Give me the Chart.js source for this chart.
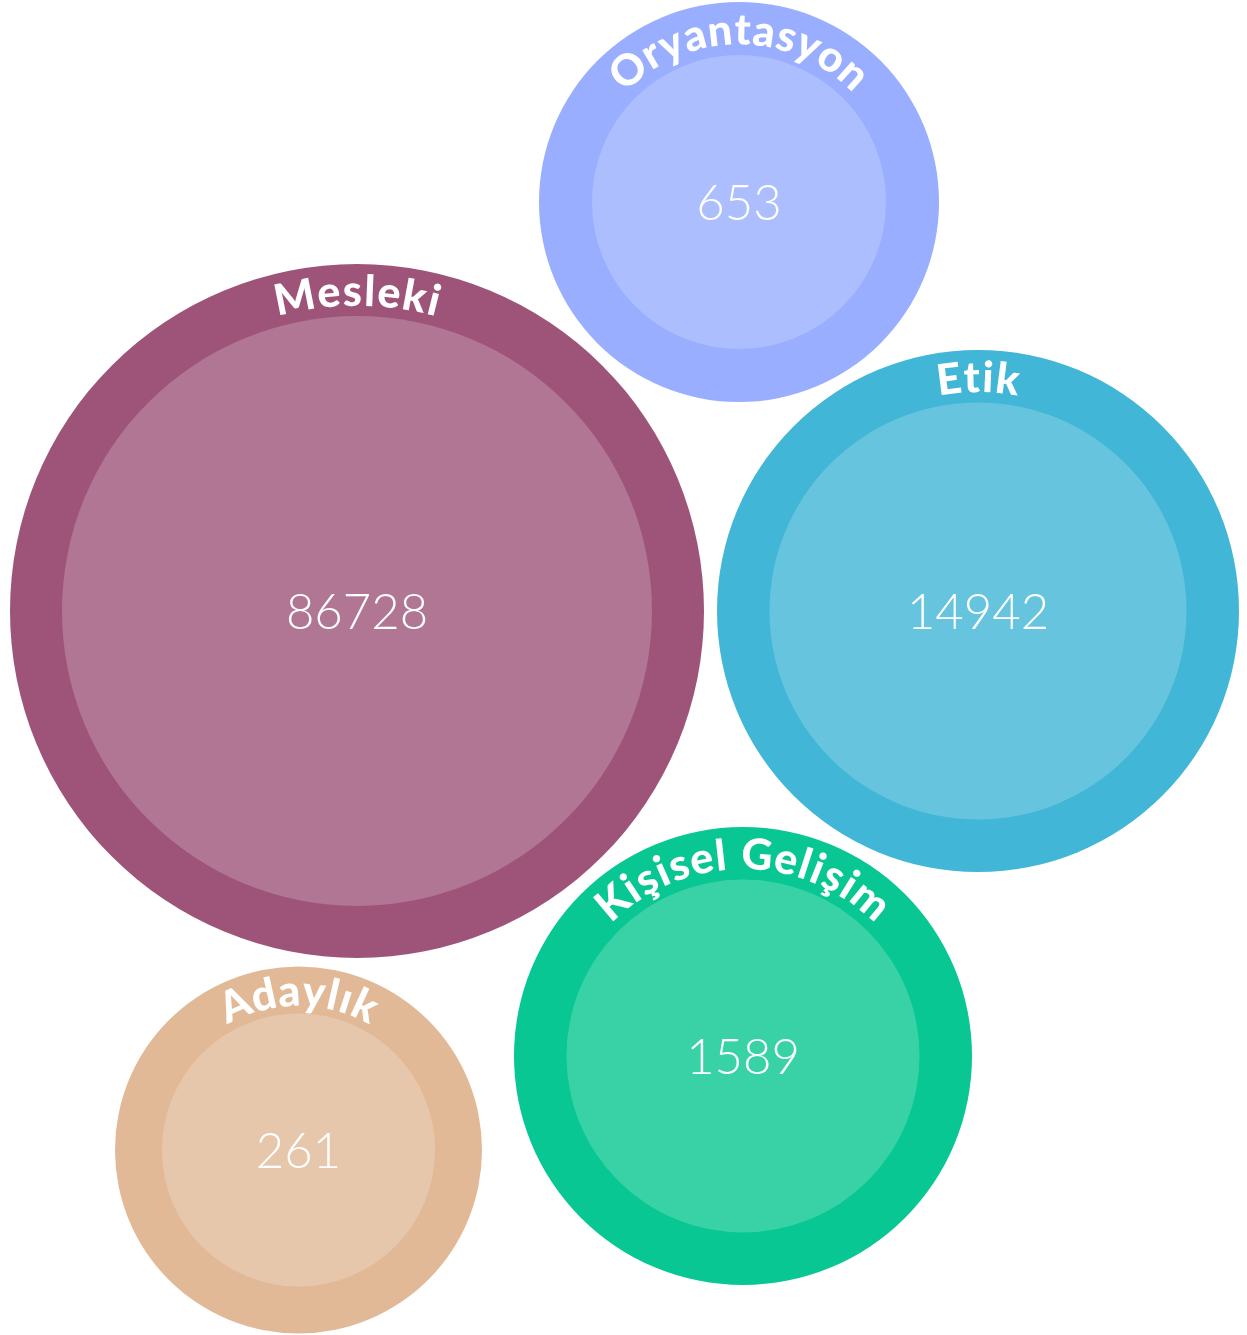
<!DOCTYPE html>
<html>
<head>
<meta charset="utf-8">
<script src="https://cdn.jsdelivr.net/npm/chart.js@4.4.1/dist/chart.umd.min.js"></script>
<style>
  html, body { margin: 0; padding: 0; background: #fff; }
  #wrap { width: 1247px; height: 1335px; position: relative; }
</style>
</head>
<body>
<div id="wrap"><canvas id="chart"></canvas></div>
<script>
const categories = ['Mesleki', 'Etik', 'Oryantasyon', 'Kişisel Gelişim', 'Adaylık'];
const counts = [86728, 14942, 653, 1589, 261];
const xValues = [357, 978, 739, 743, 298.5];
const yValues = [611, 611, 202, 1056, 1150];
const outerRadii = [347, 261, 200, 229, 183.5];
const innerRadii = [295, 208.5, 147, 176.5, 136.5];
const colors = ['#9e5479', '#41b6d6', '#99aeff', '#08c792', '#e2b997'];

// curved labels along the top of each ring + value in the middle
const ringLabels = {
    id: 'ringLabels',
    afterDatasetsDraw(chart) {
        const ctx = chart.ctx;
        const meta = chart.getDatasetMeta(0);
        meta.data.forEach(function(pt, i) {
            const ring = outerRadii[i] - innerRadii[i];
            const r = outerRadii[i] - ring / 2 - 2;
            ctx.save();
            ctx.fillStyle = '#fff';
            ctx.font = '900 43px Lato';
            ctx.textAlign = 'center';
            ctx.textBaseline = 'middle';
            const text = categories[i];
            const spacing = 2.5;
            const widths = Array.from(text).map(function(c) { return ctx.measureText(c).width + spacing; });
            const total = widths.reduce(function(a, b) { return a + b; }, 0);
            let angle = -Math.PI / 2 - (total / r) / 2;
            Array.from(text).forEach(function(c, k) {
                const a = angle + (widths[k] / 2) / r;
                ctx.save();
                ctx.translate(pt.x + r * Math.cos(a), pt.y + r * Math.sin(a));
                ctx.rotate(a + Math.PI / 2);
                ctx.fillText(c, 0, 0);
                ctx.restore();
                angle += widths[k] / r;
            });
            ctx.font = '300 49px Lato';
            ctx.fillText(String(counts[i]), pt.x, pt.y + 2);
            ctx.restore();
        });
    }
};

new Chart(document.getElementById('chart'), {
    type: 'bubble',
    data: {
        datasets: [
            {
                data: categories.map(function(c, i) { return { x: xValues[i], y: yValues[i], r: outerRadii[i] }; }),
                backgroundColor: colors,
                borderWidth: 0,
                hoverRadius: 0,
                order: 2,
            },
            {
                data: categories.map(function(c, i) { return { x: xValues[i], y: yValues[i], r: innerRadii[i] }; }),
                backgroundColor: 'rgba(255,255,255,0.2)',
                borderWidth: 0,
                hoverRadius: 0,
                order: 1,
            },
        ],
    },
    options: {
        responsive: true,
        maintainAspectRatio: false,
        animation: false,
        events: [],
        clip: false,
        layout: { padding: 0, autoPadding: false },
        plugins: { legend: { display: false }, tooltip: { enabled: false } },
        scales: {
            x: { display: false, min: 0, max: 1247 },
            y: { display: false, min: 0, max: 1335, reverse: true },
        },
    },
    plugins: [ringLabels],
});
</script>
</body>
</html>
